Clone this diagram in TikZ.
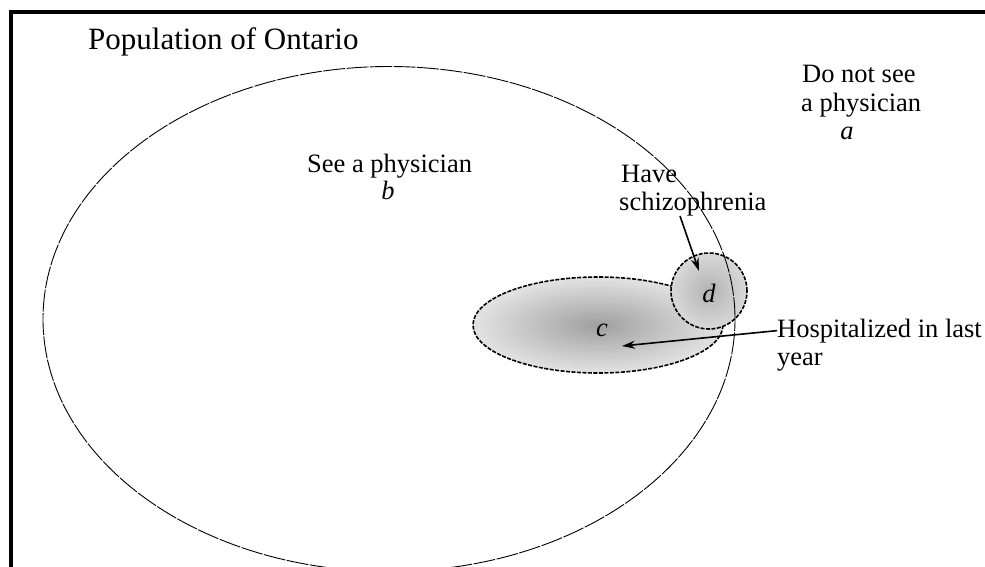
\documentclass[tikz,border=0pt]{standalone}
\usepackage{fontspec}
\setmainfont{Liberation Serif}
\usetikzlibrary{arrows.meta,shapes.geometric}
\begin{document}
\begin{tikzpicture}[x=1pt,y=-1pt,
  lbl/.style={inner sep=0pt, font=\fontsize{26.5}{29}\selectfont},
  region/.style={draw=black, line width=1.6pt, dash pattern=on 4pt off 1.5pt, inner sep=0pt},
  pointer/.style={draw=black, line width=1.6pt, -{Stealth[length=13pt,width=8pt]}},
  frameline/.style={line width=4pt, draw=black, line join=miter},
  bigset/.style={ellipse, draw=black, line width=0.9pt, dash pattern=on 22pt off 1.5pt, inner sep=0pt}
]
\useasboundingbox (0,0) rectangle (985,566);
\fill[white] (0,0) rectangle (985,566);
% frame
\coordinate (fTL) at (10.5,12);
\coordinate (fTR) at (990,12);
\coordinate (fBL) at (10.5,570);
\draw[frameline] (fTR) -- (fTL) -- (fBL);
% hospitalized set c
\node[region, ellipse, minimum width=250pt, minimum height=96pt,
      shading=radial, inner color=gray!75, outer color=gray!22] (c) at (598,325) {};
% schizophrenia set d
\node[region, circle, minimum size=76pt,
      shading=radial, inner color=gray!60, outer color=gray!30] (d) at (709,291) {};
% physician set
\node[bigset, minimum width=692pt, minimum height=505pt] (b) at (389,319) {};
% labels
\node[lbl, anchor=base west, font=\fontsize{31}{34}\selectfont] (title) at (88,49) {Population of Ontario};
\node[lbl, anchor=base west] (seeA) at (307,172) {See a physician};
\node[lbl, anchor=base] (seeB) at (388,199) {\textit{b}};
\node[lbl, anchor=base west] (notA) at (802,82) {Do not see};
\node[lbl, anchor=base west] (notB) at (801,111) {a physician};
\node[lbl, anchor=base] (notC) at (847,139) {\textit{a}};
\node[lbl, anchor=base west] (haveA) at (621,182) {Have};
\node[lbl, anchor=base west] (haveB) at (619,210) {schizophrenia};
\node[lbl, anchor=base west] (hospA) at (777,337) {Hospitalized in last};
\node[lbl, anchor=base west] (hospB) at (777,365) {year};
\node[lbl, anchor=base] (lc) at (602,336) {\textit{c}};
\node[lbl, anchor=base] (ld) at (709,302) {\textit{d}};
% pointers
\coordinate (schizTail) at (680,216);
\coordinate (schizTip) at (699,271);
\coordinate (cTip) at (622,346);
\draw[pointer] (schizTail) -- (schizTip);
\draw[pointer] (hospA.west) -- (cTip);
\end{tikzpicture}
\end{document}
